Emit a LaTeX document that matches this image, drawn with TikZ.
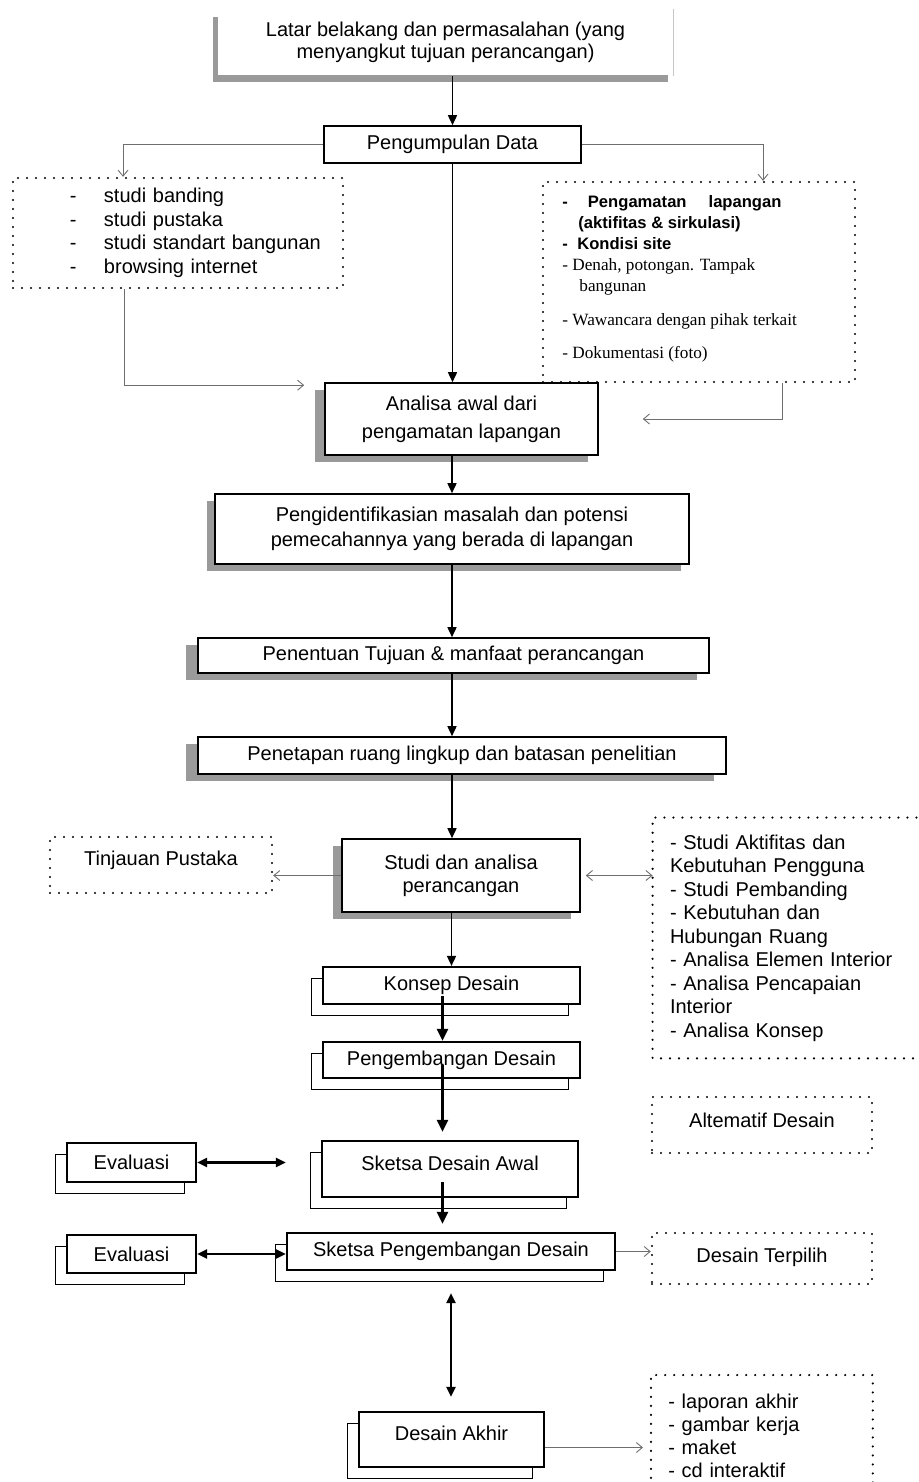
\documentclass[tikz,border=0pt]{standalone}
\usepackage{fontspec}
\setmainfont{Liberation Sans}
\newfontfamily\serifface{Liberation Serif}
\usepackage{tikz}
\usetikzlibrary{arrows.meta,shadows}
\definecolor{shade}{HTML}{9A9A9A}
\definecolor{thinline}{HTML}{6E6E6E}

\begin{document}
\begin{tikzpicture}[x=0.5pt,y=-0.5pt,font=\fontsize{10}{12}\selectfont,
  box/.style={draw,fill=white,line width=0.8pt,inner sep=0pt,align=center},
  shadebox/.style={box,drop shadow={shadow xshift=-#1,shadow yshift=-3.5pt,fill=shade,opacity=1}},
  shadebox/.default=4.5pt,
  stackbox/.style={box,line width=1.1pt,copy shadow={shadow xshift=-6pt,shadow yshift=-5.5pt,draw=black,fill=white,line width=0.5pt}},
  dotline/.style={line width=1.2pt,dash pattern=on 0pt off 4.5pt,line cap=round},
  dotbox/.style={draw,dotline,inner sep=0pt,align=center},
  flow/.style={line width=0.8pt,-{Triangle[length=5pt,width=4.5pt]}},
  boldflow/.style={line width=1.3pt,-{Triangle[length=6pt,width=5.5pt]}},
  twoway/.style={line width=1.1pt,{Triangle[length=5pt,width=4.5pt]}-{Triangle[length=5pt,width=4.5pt]}},
  feed/.style={thinline,line width=0.45pt,-{Straight Barb[length=3pt,width=5pt]}}]
\useasboundingbox (0,0) rectangle (918,1482);

% alur utama
\node[shadebox=2.5pt,draw=none,minimum width=227.5pt,minimum height=32.5pt,font=\fontsize{10}{11}\selectfont] (latar) at (445.5,42.5) {Latar belakang dan permasalahan (yang\\menyangkut tujuan perancangan)};
\draw[gray!45,line width=0.6pt] (latar.north east) -- (latar.south east);
\node[box,minimum width=128.5pt,minimum height=18.5pt] (kumpul) at (452.5,144.5) {Pengumpulan Data};
\node[shadebox=5pt,minimum width=136.5pt,minimum height=36pt,font=\fontsize{10}{14}\selectfont] (analisa) at (461.5,419) {Analisa awal dari\\pengamatan lapangan};
\node[shadebox=4pt,minimum width=237pt,minimum height=35pt,font=\fontsize{10}{12.5}\selectfont] (ident) at (452,529) {Pengidentifikasian masalah dan potensi\\pemecahannya yang berada di lapangan};
\node[shadebox=6pt,minimum width=255.5pt,minimum height=17.5pt] (tujuan) at (453.5,655.5) {Penentuan Tujuan \& manfaat perancangan};
\node[shadebox=6pt,minimum width=264pt,minimum height=18.5pt] (batas) at (462,755.5) {Penetapan ruang lingkup dan batasan penelitian};
\node[shadebox=4.5pt,minimum width=119pt,minimum height=36.5pt,font=\fontsize{10}{11.5}\selectfont] (studi) at (461,875.5) {Studi dan analisa\\perancangan};

% data
\node[dotbox,minimum width=165pt,minimum height=55pt,text width=155pt,inner xsep=5pt,align=left,font=\fontsize{10}{11.75}\selectfont] (lit) at (178,233) {\hspace*{23.5pt}\makebox[17pt][l]{-}studi banding\\
\hspace*{23.5pt}\makebox[17pt][l]{-}studi pustaka\\
\hspace*{23.5pt}\makebox[17pt][l]{-}studi standart bangunan\\
\hspace*{23.5pt}\makebox[17pt][l]{-}browsing internet};
\node[dotbox,minimum width=156pt,minimum height=100pt] (obs) at (699,282) {};
\node[anchor=north west,inner sep=0pt,align=left,font=\fontsize{8.3}{10.5}\selectfont] (obstext) at (562,195) {\textbf{-\hspace{10pt}Pengamatan\hspace{11pt}lapangan}\\
\hspace*{8pt}\textbf{(aktifitas \& sirkulasi)}\\
\textbf{-\hspace{4.7pt}Kondisi site}\\
{\serifface\fontsize{8.6}{10.5}\selectfont - Denah, potongan. Tampak}\\
\hspace*{8.5pt}{\serifface\fontsize{8.6}{10.5}\selectfont bangunan}\\[6.5pt]
{\serifface\fontsize{8.6}{10.5}\selectfont - Wawancara dengan pihak terkait}\\[6pt]
{\serifface\fontsize{8.6}{10.5}\selectfont - Dokumentasi (foto)}};

% studi
\node[dotbox,minimum width=111pt,minimum height=28pt,text depth=7pt] (tinjau) at (161,865) {Tinjauan Pustaka};
\node[inner sep=0pt,inner xsep=8.5pt,text width=114.5pt,minimum width=131.5pt,minimum height=120pt,align=left,font=\fontsize{10}{11.75}\selectfont] (rlist) at (784.5,938) {- Studi Aktifitas dan\\Kebutuhan Pengguna\\- Studi Pembanding\\- Kebutuhan dan\\Hubungan Ruang\\- Analisa Elemen Interior\\- Analisa Pencapaian\\Interior\\- Analisa Konsep};
\draw[dotline] (rlist.north east) -- (rlist.north west) -- (rlist.south west) -- (rlist.south east);

% desain
\node[stackbox,minimum width=128.5pt,minimum height=18.5pt] (konsep) at (451.5,985.5) {Konsep Desain};
\node[stackbox,minimum width=128.5pt,minimum height=18pt] (kembang) at (451.5,1060) {Pengembangan Desain};
\node[dotbox,minimum width=110pt,minimum height=28pt,text depth=5pt] (alt) at (762,1125) {Altematif Desain};
\node[stackbox,minimum width=64.5pt,minimum height=19.5pt] (ev1) at (131.5,1162.5) {Evaluasi};
\node[stackbox,minimum width=128pt,minimum height=28pt,text depth=6pt] (sk1) at (450,1169) {Sketsa Desain Awal};
\node[stackbox,minimum width=64.5pt,minimum height=19pt] (ev2) at (131.5,1254) {Evaluasi};
\node[stackbox,minimum width=164pt,minimum height=18.5pt] (skp) at (451,1251.5) {Sketsa Pengembangan Desain};
\node[dotbox,minimum width=110pt,minimum height=25.5pt,text depth=3.5pt] (pilih) at (762,1258.5) {Desain Terpilih};
\node[stackbox,minimum width=92.5pt,minimum height=27.5pt,text depth=6.5pt] (akhir) at (451.5,1439.5) {Desain Akhir};
\node[anchor=north west,inner sep=0pt,inner xsep=8.5pt,text width=93.5pt,minimum height=60pt,align=left,font=\fontsize{10}{11.5}\selectfont] (outlist) at (651,1375) {- laporan akhir\\- gambar kerja\\- maket\\- cd interaktif};
\draw[dotline] (outlist.south west) -- (outlist.north west) -- (outlist.north east) -- (outlist.south east);

% panah
\coordinate (lane) at ([xshift=-4.5pt]kembang.center);
\draw[flow] (latar.south -| kumpul.north) -- (kumpul.north);
\draw[flow] (kumpul.south) -- (kumpul.south |- analisa.north);
\draw[flow] (analisa.south -| ident.north) -- (ident.north);
\draw[flow] (ident.south) -- (ident.south |- tujuan.north);
\draw[flow] (tujuan.south -| ident.south) -- (batas.north -| ident.south);
\draw[flow] (batas.south -| ident.south) -- (studi.north -| ident.south);
\draw[flow] (studi.south -| konsep.north) -- (konsep.north);
\draw[boldflow] ([yshift=-5pt]lane |- konsep.center) -- (lane |- kembang.north);
\draw[boldflow] ([yshift=-2.5pt]lane) -- ([yshift=4pt]lane |- sk1.north);
\draw[boldflow] ([yshift=-6.5pt]lane |- sk1.center) -- ([yshift=4pt]lane |- skp.north);
\draw[twoway] ([yshift=-11pt]skp.south) -- ([yshift=7pt]akhir.north -| skp.south);
\draw[twoway,shorten >=17.5pt] (ev1.east) -- (ev1.east -| sk1.west);
\draw[twoway] (ev2.east) -- (ev2.east -| skp.west);

\draw[feed] (kumpul.west) -| ([xshift=-27.5pt]lit.north);
\draw[feed] (kumpul.east) -| ([xshift=32pt]obs.north);
\draw[feed] ([xshift=-27pt]lit.south) |- ([xshift=-10pt,yshift=-1.5pt]analisa.north west);
\draw[feed] ([xshift=41.5pt]obs.south) |- ([xshift=22pt]analisa.east);
\draw[feed] (studi.west) -- (studi.west -| tinjau.east);
\draw[feed,{Straight Barb[length=3pt,width=5pt]}-{Straight Barb[length=3pt,width=5pt]},shorten <=2.5pt] (studi.east) -- (studi.east -| rlist.west);
\draw[feed] (skp.east) -- (skp.east -| pilih.west);
\draw[feed,shorten >=4pt] ([yshift=-4pt]akhir.east) -- ([yshift=-4pt]akhir.east -| outlist.west);
\end{tikzpicture}
\end{document}
